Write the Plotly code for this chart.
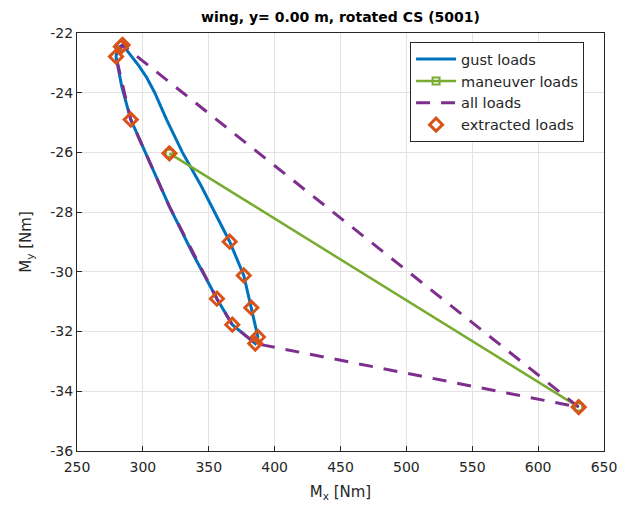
import plotly.graph_objects as go

# gust loads (closed envelope)
gust_mx = [284.6, 290.0, 297.0, 303.0, 309.0, 318.0, 330.0, 344.0, 352.0, 359.0, 365.9, 376.6, 382.3, 387.3,
           385.3, 367.9, 356.2, 338.0, 320.0, 305.0, 290.8, 284.0, 279.6, 281.0, 284.6]
gust_my = [-22.40, -22.70, -23.10, -23.50, -24.00, -24.90, -26.00, -27.10, -27.80, -28.40, -28.99, -30.12, -31.20, -32.18,
           -32.40, -31.77, -30.90, -29.40, -27.80, -26.30, -24.90, -23.80, -22.79, -22.50, -22.40]

# maneuver loads
man_mx = [320.1, 630.8]
man_my = [-26.03, -34.53]

# all loads (hull)
all_mx = [630.8, 284.6, 279.6, 290.8, 320.0, 356.2, 367.9, 385.3, 630.8]
all_my = [-34.53, -22.40, -22.79, -24.90, -27.80, -30.90, -31.77, -32.40, -34.53]

# extracted loads
ext_mx = [283.3, 284.6, 279.6, 290.8, 320.1, 365.9, 376.6, 382.3, 387.3, 385.3, 356.2, 367.9, 630.8]
ext_my = [-22.46, -22.40, -22.79, -24.90, -26.03, -28.99, -30.12, -31.20, -32.18, -32.40, -30.90, -31.77, -34.53]

x_ticks = [250, 300, 350, 400, 450, 500, 550, 600, 650]
y_ticks = [-36, -34, -32, -30, -28, -26, -24, -22]

blue = "#0072BD"
green = "#77AC30"
purple = "#7E2F8E"
orange = "#D95319"
axcol = "#262626"

fig = go.Figure()
fig.add_trace(go.Scatter(x=gust_mx, y=gust_my, mode="lines", name="gust loads",
                         line=dict(color=blue, width=3)))
fig.add_trace(go.Scatter(x=man_mx, y=man_my, mode="lines+markers", name="maneuver loads",
                         line=dict(color=green, width=2.5),
                         marker=dict(symbol="square-open", size=7, color=green, line=dict(width=2, color=green))))
fig.add_trace(go.Scatter(x=all_mx, y=all_my, mode="lines", name="all loads",
                         line=dict(color=purple, width=3, dash="14px,11px")))
fig.add_trace(go.Scatter(x=ext_mx, y=ext_my, mode="markers", name="extracted loads",
                         marker=dict(symbol="diamond-open", size=10, color=orange, line=dict(width=3, color=orange))))

axis_common = dict(showgrid=True, gridcolor="#e3e3e3", gridwidth=1, showline=True, linecolor=axcol, linewidth=1,
                   mirror=True, ticks="inside", ticklen=5, tickcolor=axcol, zeroline=False,
                   tickfont=dict(size=14, color=axcol, family="DejaVu Sans"))

fig.update_xaxes(range=[250, 650], tickvals=x_ticks, ticktext=[str(v) for v in x_ticks],
                 ticklabelstandoff=3,
                 title=dict(text="M<sub>x</sub> [Nm]", font=dict(size=15, color=axcol, family="DejaVu Sans"), standoff=12),
                 **axis_common)
fig.update_yaxes(range=[-36, -22], tickvals=y_ticks, ticktext=[str(v) for v in y_ticks],
                 title=dict(text="M<sub>y</sub> [Nm]", font=dict(size=15, color=axcol, family="DejaVu Sans"), standoff=15),
                 **axis_common)

fig.update_layout(
    width=629, height=509,
    margin=dict(l=77, r=16, t=33, b=56),
    paper_bgcolor="white", plot_bgcolor="white",
    title=dict(text="<b>wing, y= 0.00 m, rotated CS (5001)</b>", xref="paper", x=0.5, xanchor="center",
               y=0.966, yanchor="middle",
               font=dict(size=14, color="black", family="DejaVu Sans")),
    legend=dict(x=0.632, y=0.978, xanchor="left", yanchor="top", bgcolor="white", bordercolor=axcol, borderwidth=1,
                font=dict(size=14.5, color=axcol, family="DejaVu Sans"), tracegroupgap=0, itemwidth=40),
    showlegend=True,
)

fig.write_html("out.html")
